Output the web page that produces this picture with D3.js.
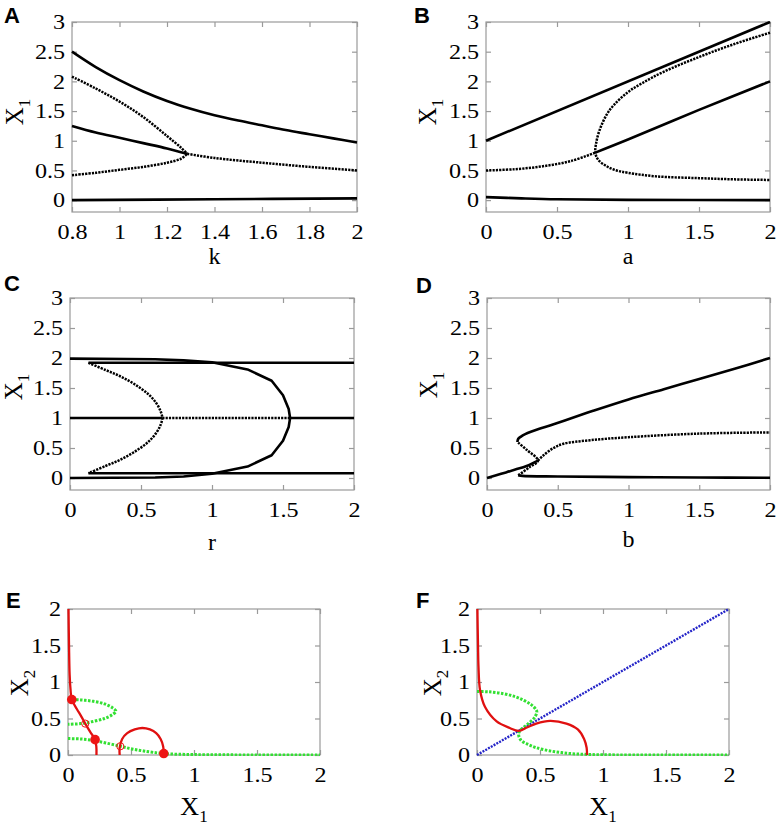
<!DOCTYPE html>
<html>
<head>
<meta charset="utf-8">
<script src="https://cdn.jsdelivr.net/npm/d3@7"></script>
<style>
  body { margin: 0; background: #fff; }
  svg { display: block; }
</style>
</head>
<body>
<div id="chart"></div>
<script>
// -DATA-, [x, X1] pairs

// panel A (k)
const aTop = [[0.8,2.5],[0.9,2.24],[1.0,2.02],[1.1,1.83],[1.2,1.67],[1.3,1.54],[1.4,1.43],[1.5,1.34],[1.6,1.26],[1.7,1.18],[1.8,1.11],[1.9,1.04],[2.0,0.97]];
const aMid = [[0.8,1.25],[0.9,1.14],[1.0,1.05],[1.1,0.96],[1.2,0.87],[1.285,0.78]];
const aUpDot = [[0.8,2.08],[0.9,1.88],[1.0,1.66],[1.1,1.4],[1.2,1.08],[1.26,0.88],[1.285,0.78]];
const aLoDot = [[0.8,0.42],[0.9,0.46],[1.0,0.51],[1.1,0.56],[1.2,0.63],[1.26,0.7],[1.285,0.78]];
const aRightDot = [[1.285,0.78],[1.4,0.71],[1.6,0.63],[1.8,0.56],[2.0,0.5]];
const aBottom = [[0.8,0.0],[1.4,0.015],[2.0,0.03]];

// panel B (a)
const bTop = [[0,1],[2,3]];
const bLeftDot = [[0,0.5],[0.2,0.52],[0.4,0.57],[0.6,0.66],[0.77,0.8]];
const bMid = [[0.77,0.8],[1.0,1.02],[1.5,1.52],[2.0,2.0]];
const bFoldDot = [[2,2.82],[1.75,2.63],[1.5,2.41],[1.25,2.16],[1.1,1.97],[1.0,1.82],[0.9,1.6],[0.85,1.44],[0.8,1.18],[0.775,0.95],[0.77,0.8],[0.79,0.68],[0.85,0.57],[0.92,0.5],[1.0,0.46],[1.2,0.4],[1.5,0.37],[1.75,0.35],[2,0.34]];
const bBottom = [[0,0.05],[0.25,0.03],[0.5,0.015],[1,0.005],[2,0]];

// panel C (r)
const cTopLine = [[0.13,1.92],[2,1.92]];
const cMidLeft = [[0,1],[0.65,1]];
const cMidDot = [[0.65,1],[1.55,1]];
const cMidRight = [[1.55,1],[2,1]];
const cBotLine = [[0.13,0.08],[2,0.08]];
const cDotC = [[0.13,1.92],[0.25,1.8],[0.35,1.7],[0.45,1.57],[0.55,1.4],[0.61,1.24],[0.64,1.1],[0.65,1],[0.64,0.9],[0.61,0.76],[0.55,0.6],[0.45,0.43],[0.35,0.3],[0.25,0.2],[0.13,0.08]];
const cOuter = [[0,1.99],[0.6,1.98],[0.8,1.96],[1.0,1.93],[1.25,1.81],[1.42,1.62],[1.5,1.38],[1.54,1.15],[1.55,1],[1.54,0.85],[1.5,0.62],[1.42,0.38],[1.25,0.19],[1.0,0.07],[0.8,0.025],[0.6,0.008],[0,0]];

// panel D (b)
const dLeftSolid = [[0,0],[0.1,0.07],[0.2,0.14],[0.28,0.2],[0.36,0.29]];
const dRightDot = [[0.36,0.29],[0.4,0.38],[0.47,0.5],[0.54,0.57],[0.73,0.63],[1.0,0.68],[1.5,0.74],[2.0,0.76]];
const dSDot = [[0.22,0.59],[0.28,0.47],[0.36,0.29],[0.3,0.18],[0.23,0.06],[0.22,0.045]];
const dUpper = [[0.215,0.6],[0.22,0.65],[0.24,0.69],[0.27,0.73],[0.31,0.77],[0.37,0.82],[0.45,0.88],[0.55,0.96],[0.75,1.12],[1.0,1.31],[1.25,1.48],[1.5,1.65],[1.75,1.82],[2.0,2.0]];
const dBottom = [[0.22,0.045],[0.25,0.035],[0.5,0.025],[1,0.015],[1.5,0.008],[2,0.005]];

// panel E (X1, X2)
const eRed1 = [[0.004,2.0],[0.008,1.5],[0.013,1.1],[0.02,0.9],[0.03,0.76],[0.07,0.63],[0.105,0.53],[0.137,0.43],[0.175,0.32],[0.215,0.21],[0.225,0.11],[0.226,0]];
const eRed2 = [[0.41,0],[0.41,0.1],[0.43,0.22],[0.47,0.3],[0.53,0.35],[0.59,0.37],[0.65,0.35],[0.7,0.3],[0.735,0.22],[0.755,0.12],[0.76,0.02]];
const eGreenLoop = [[0,0.76],[0.1,0.755],[0.2,0.735],[0.29,0.7],[0.35,0.65],[0.38,0.6],[0.35,0.55],[0.29,0.5],[0.2,0.46],[0.1,0.43],[0,0.42]];
const eGreenLow = [[0,0.225],[0.1,0.22],[0.2,0.2],[0.3,0.165],[0.415,0.12],[0.5,0.085],[0.6,0.055],[0.76,0.02],[1.0,0.006],[1.5,0.001],[2,0]];
const eStable = [[0.03,0.76],[0.215,0.21],[0.76,0.02]];
const eUnstable = [[0.137,0.43],[0.415,0.12]];

// panel F (X1, X2)
const fBlue = [[0,0],[2,2]];
const fRed = [[0.003,2.0],[0.008,1.5],[0.012,1.2],[0.024,0.89],[0.063,0.66],[0.156,0.46],[0.26,0.37],[0.33,0.33],[0.4,0.38],[0.47,0.43],[0.58,0.467],[0.71,0.43],[0.8,0.35],[0.85,0.22],[0.87,0.1],[0.873,0]];
const fGreen = [[0,0.87],[0.1,0.865],[0.21,0.84],[0.3,0.8],[0.37,0.75],[0.43,0.69],[0.465,0.63],[0.475,0.59],[0.455,0.51],[0.4,0.42],[0.34,0.33],[0.33,0.28],[0.35,0.2],[0.4,0.15],[0.47,0.1],[0.6,0.05],[0.74,0.02],[0.87,0.008],[1.0,0.003],[1.5,0],[2,0]];

// ticks
const xTicksA = [0.8,1,1.2,1.4,1.6,1.8,2];
const xTicks02 = [0,0.5,1,1.5,2];
const yTicks03 = [0,0.5,1,1.5,2,2.5,3];
const yTicks02 = [0,0.5,1,1.5,2];

// -STYLES-
const solidBlack = { stroke: "#000", width: 2.6, dash: null };
const dotBlack = { stroke: "#000", width: 2.5, dash: "2.2,1.1" };
const redLine = { stroke: "#e01010", width: 2.3, dash: null };
const greenDot = { stroke: "#33e033", width: 3, dash: "2.5,1.5" };
const blueDot = { stroke: "#2424c8", width: 2.4, dash: "2,1.2" };

// -PANELS- (frame positions in px)
const panels = [
  { letter: "A", lx: 4, ly: 23, x0: 72, x1: 357, y0: 22, y1: 212, xd: [0.8,2], yd: [-0.2,3], xt: xTicksA, yt: yTicks03,
    xl: "k", xlY: 264, yl: "X", ylSub: "1", ylX: 23, ylY: 112,
    series: [[aTop,solidBlack],[aMid,solidBlack],[aUpDot,dotBlack],[aLoDot,dotBlack],[aRightDot,dotBlack],[aBottom,solidBlack]] },
  { letter: "B", lx: 414, ly: 23, x0: 486, x1: 770, y0: 22, y1: 212, xd: [0,2], yd: [-0.2,3], xt: xTicks02, yt: yTicks03,
    xl: "a", xlY: 264, yl: "X", ylSub: "1", ylX: 436, ylY: 112,
    series: [[bTop,solidBlack],[bLeftDot,dotBlack],[bMid,solidBlack],[bFoldDot,dotBlack],[bBottom,solidBlack]] },
  { letter: "C", lx: 4, ly: 291, x0: 70, x1: 354, y0: 298, y1: 490, xd: [0,2], yd: [-0.2,3], xt: xTicks02, yt: yTicks03,
    xl: "r", xlY: 550, yl: "X", ylSub: "1", ylX: 22, ylY: 387,
    series: [[cTopLine,solidBlack],[cMidLeft,solidBlack],[cMidDot,dotBlack],[cMidRight,solidBlack],[cBotLine,solidBlack],[cDotC,dotBlack],[cOuter,solidBlack,"linear"]] },
  { letter: "D", lx: 416, ly: 293, x0: 487, x1: 770, y0: 298, y1: 490, xd: [0,2], yd: [-0.2,3], xt: xTicks02, yt: yTicks03,
    xl: "b", xlY: 547, yl: "X", ylSub: "1", ylX: 437, ylY: 385,
    series: [[dLeftSolid,solidBlack],[dRightDot,dotBlack],[dSDot,dotBlack],[dUpper,solidBlack],[dBottom,solidBlack]] },
  { letter: "E", lx: 6, ly: 608, x0: 68, x1: 320, y0: 609, y1: 755, xd: [0,2], yd: [0,2], xt: xTicks02, yt: yTicks02,
    xl: "X", xlSub: "1", xlY: 815, yl: "X", ylSub: "2", ylX: 28, ylY: 683,
    series: [[eGreenLoop,greenDot],[eGreenLow,greenDot],[eRed1,redLine],[eRed2,redLine]],
    stable: eStable, unstable: eUnstable },
  { letter: "F", lx: 416, ly: 608, x0: 477, x1: 729, y0: 609, y1: 755, xd: [0,2], yd: [0,2], xt: xTicks02, yt: yTicks02,
    xl: "X", xlSub: "1", xlY: 815, yl: "X", ylSub: "2", ylX: 441, ylY: 683,
    series: [[fBlue,blueDot],[fGreen,greenDot],[fRed,redLine]] }
];

const svg = d3.select("#chart")
  .append("svg")
  .attr("width", 779)
  .attr("height", 827);

const serif = "'Liberation Serif', 'Times New Roman', serif";
const fmt = d3.format("~g");

panels.forEach((p) => {
  const x = d3.scaleLinear().domain(p.xd).range([p.x0, p.x1]);
  const y = d3.scaleLinear().domain(p.yd).range([p.y1, p.y0]);
  const g = svg.append("g");

  // frame
  g.append("rect")
    .attr("x", p.x0).attr("y", p.y0)
    .attr("width", p.x1 - p.x0).attr("height", p.y1 - p.y0)
    .attr("fill", "none").attr("stroke", "#9a9a9a").attr("stroke-width", 1.2);

  // axes, ticks pointing inward on all four sides
  const axes = [
    [d3.axisBottom(x).tickValues(p.xt).tickFormat(fmt), p.y1, true],
    [d3.axisTop(x).tickValues(p.xt).tickFormat(""), p.y0, true],
    [d3.axisLeft(y).tickValues(p.yt).tickFormat(fmt), p.x0, false],
    [d3.axisRight(y).tickValues(p.yt).tickFormat(""), p.x1, false]
  ];
  axes.forEach(([ax, pos, horiz]) => {
    const a = g.append("g")
      .attr("transform", horiz ? "translate(0," + pos + ")" : "translate(" + pos + ",0)")
      .call(ax.tickSizeInner(-5).tickSizeOuter(0).tickPadding(horiz ? 12 : 6));
    a.attr("font-family", serif).attr("font-size", 21);
    a.select(".domain").remove();
    a.selectAll(".tick line").attr("stroke", "#9a9a9a").attr("stroke-width", 1.2);
    // the original glyphs are a little wider than Liberation Serif
    a.selectAll(".tick text")
      .attr("fill", "#000")
      .attr("transform", "scale(1.15,1)")
      .style("font-family", serif)
      .style("font-size", "21px");
  });

  // curves
  const clipId = "clip" + p.letter;
  g.append("clipPath").attr("id", clipId)
    .append("rect")
    .attr("x", p.x0 - 1).attr("y", p.y0 - 1)
    .attr("width", p.x1 - p.x0 + 2).attr("height", p.y1 - p.y0 + 2);

  const plot = g.append("g").attr("clip-path", "url(#" + clipId + ")");
  p.series.forEach(([data, st, kind]) => {
    const line = d3.line()
      .x((d) => x(d[0]))
      .y((d) => y(d[1]))
      .curve(kind === "linear" ? d3.curveLinear : d3.curveCatmullRom.alpha(0.5));
    plot.append("path")
      .datum(data)
      .attr("d", line)
      .attr("fill", "none")
      .attr("stroke", st.stroke)
      .attr("stroke-width", st.width)
      .attr("stroke-dasharray", st.dash)
      .attr("stroke-linejoin", "round");
  });

  // fixed points (panel E)
  if (p.stable) {
    g.selectAll(".stable")
      .data(p.stable)
      .enter()
      .append("circle")
      .attr("cx", (d) => x(d[0]))
      .attr("cy", (d) => y(d[1]))
      .attr("r", 4.8)
      .attr("fill", "#ee1515");
    g.selectAll(".unstable")
      .data(p.unstable)
      .enter()
      .append("circle")
      .attr("cx", (d) => x(d[0]))
      .attr("cy", (d) => y(d[1]))
      .attr("r", 3.6)
      .attr("fill", "none")
      .attr("stroke", "#ee1515")
      .attr("stroke-width", 1);
  }

  // x label
  const xt = g.append("text")
    .attr("x", (p.x0 + p.x1) / 2)
    .attr("y", p.xlY)
    .attr("text-anchor", "middle")
    .style("font-family", serif)
    .style("font-size", p.xlSub ? "26px" : "24px")
    .text(p.xl);
  if (p.xlSub) {
    xt.append("tspan").attr("dy", 7).style("font-size", "17px").text(p.xlSub);
  }

  // y label
  const yt = g.append("text")
    .attr("transform", "translate(" + p.ylX + "," + p.ylY + ") rotate(-90)")
    .attr("text-anchor", "middle")
    .style("font-family", serif)
    .style("font-size", "25px")
    .text(p.yl);
  yt.append("tspan").attr("dy", 7).style("font-size", "17px").text(p.ylSub);

  // panel letter
  g.append("text")
    .attr("x", p.lx)
    .attr("y", p.ly)
    .style("font-family", "'Liberation Sans', Arial, sans-serif")
    .style("font-weight", "bold")
    .style("font-size", "22px")
    .text(p.letter);
});
</script>
</body>
</html>
